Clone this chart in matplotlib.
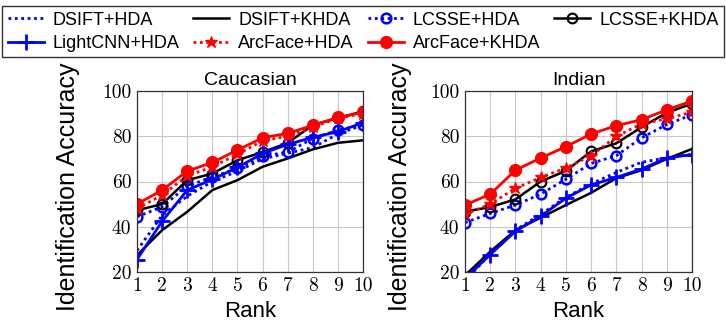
import numpy as np
import matplotlib
matplotlib.use("Agg")
import matplotlib.pyplot as plt

plt.rcParams['font.family'] = ['Liberation Sans', 'DejaVu Sans']

# rank 1..10
ranks = np.arange(1, 11)

# Caucasian
cau_dsift_hda = [29.5, 45, 53.5, 60, 64.5, 70, 72.5, 75, 81, 85]
cau_dsift_khda = [27.4, 38.5, 46.6, 56.2, 60.6, 66.5, 70.2, 74.2, 77.1, 78.2]
cau_lcsse_hda = [44.4, 48.8, 58, 62, 65.8, 71.2, 73, 79, 82.7, 85]
cau_lcsse_khda = [47.3, 50, 60.6, 63.5, 69.4, 73, 77, 85, 88, 91]
cau_lightcnn_hda = [25.5, 42.4, 56.2, 60.9, 66.2, 72.4, 76.4, 79.5, 82, 86]
cau_arcface_hda = [48, 54, 62.5, 66.5, 72, 78, 80, 84, 88, 90]
cau_arcface_khda = [50, 56.2, 64.6, 68.4, 73.9, 79.3, 81.3, 84.8, 88.3, 90.5]

# Indian
ind_dsift_hda = [16, 28, 38.5, 45.5, 53, 59, 64, 68.5, 70.5, 72]
ind_dsift_khda = [18.5, 29, 38.5, 44, 49.6, 55, 61.5, 65, 70, 74.4]
ind_lcsse_hda = [41.8, 45.9, 49.6, 54.4, 61, 68, 71.4, 79.3, 85.2, 89.5]
ind_lcsse_khda = [46.7, 48.7, 52.1, 60, 64.7, 73.3, 76.9, 84, 90.4, 94.4]
ind_lightcnn_hda = [17, 27.7, 38, 44.7, 52.6, 58.5, 61.8, 65.5, 70.4, 71.9]
ind_arcface_hda = [45.5, 50, 57, 61.8, 66, 71.4, 79.9, 85.5, 87.7, 90.7]
ind_arcface_khda = [49.6, 54.4, 65, 70.4, 75.4, 81, 84.7, 87.3, 91.7, 95.6]

names = ["DSIFT+HDA", "DSIFT+KHDA", "LCSSE+HDA", "LCSSE+KHDA",
         "LightCNN+HDA", "ArcFace+HDA", "ArcFace+KHDA"]
titles = ["Caucasian", "Indian"]
y_ticks = [20, 40, 60, 80, 100]

dot = (0, (1, 1.3))
styles = [
    dict(color='blue', ls=dot, lw=2, marker=None),
    dict(color='black', ls='-', lw=1.8, marker=None),
    dict(color='blue', ls=dot, lw=2, marker='o', ms=7, mfc='none', mew=1.8),
    dict(color='black', ls='-', lw=1.8, marker='o', ms=7, mfc='none', mew=1.5),
    dict(color='blue', ls='-', lw=2, marker='+', ms=12, mew=2),
    dict(color='red', ls=dot, lw=2, marker='*', ms=9),
    dict(color='red', ls='-', lw=2, marker='o', ms=8.5),
]

data = [
    [cau_dsift_hda, cau_dsift_khda, cau_lcsse_hda, cau_lcsse_khda,
     cau_lightcnn_hda, cau_arcface_hda, cau_arcface_khda],
    [ind_dsift_hda, ind_dsift_khda, ind_lcsse_hda, ind_lcsse_khda,
     ind_lightcnn_hda, ind_arcface_hda, ind_arcface_khda],
]

fig = plt.figure(figsize=(7.26, 3.22), dpi=100)
ax_l = fig.add_axes([137 / 726, 50 / 322, 226 / 726, 181 / 322])
ax_r = fig.add_axes([465 / 726, 50 / 322, 227 / 726, 181 / 322])
label_x = [-0.25, -0.233]

handles = []
for k, ax in enumerate([ax_l, ax_r]):
    for series, name, st in zip(data[k], names, styles):
        h, = ax.plot(ranks, series, label=name, **st)
        if k == 0:
            handles.append(h)
    ax.set_xlim(1, 10)
    ax.set_ylim(20, 100)
    ax.set_xticks(ranks)
    ax.set_yticks(y_ticks)
    ax.grid(True, color='#c8c8c8', lw=0.8)
    ax.set_axisbelow(True)
    ax.tick_params(direction='in', length=0, pad=4, labelsize=14)
    for lab in ax.get_xticklabels() + ax.get_yticklabels():
        lab.set_fontfamily('cmr10')
    for sp in ax.spines.values():
        sp.set_linewidth(0.9)
        sp.set_color('#333333')
    ax.set_title(titles[k], fontsize=14, pad=4)
    ax.set_xlabel("Rank", fontsize=16, labelpad=4)
    ax.set_ylabel("Identification Accuracy", fontsize=18)
    ax.yaxis.set_label_coords(label_x[k], 0.47)

# legend filled column-wise: reorder so rows read left to right
order = [0, 4, 1, 5, 2, 6, 3]
leg = fig.legend([handles[i] for i in order], [names[i] for i in order],
                 ncol=4, loc='lower left', mode='expand',
                 bbox_to_anchor=(0.003, 0.822, 0.994, 0.172),
                 fontsize=13, frameon=True, fancybox=False,
                 handlelength=2.0, handletextpad=0.5, borderpad=0.3,
                 labelspacing=0.35, borderaxespad=0)
leg.get_frame().set_edgecolor('black')
leg.get_frame().set_linewidth(1.0)

fig.savefig("out.png", dpi=100)
